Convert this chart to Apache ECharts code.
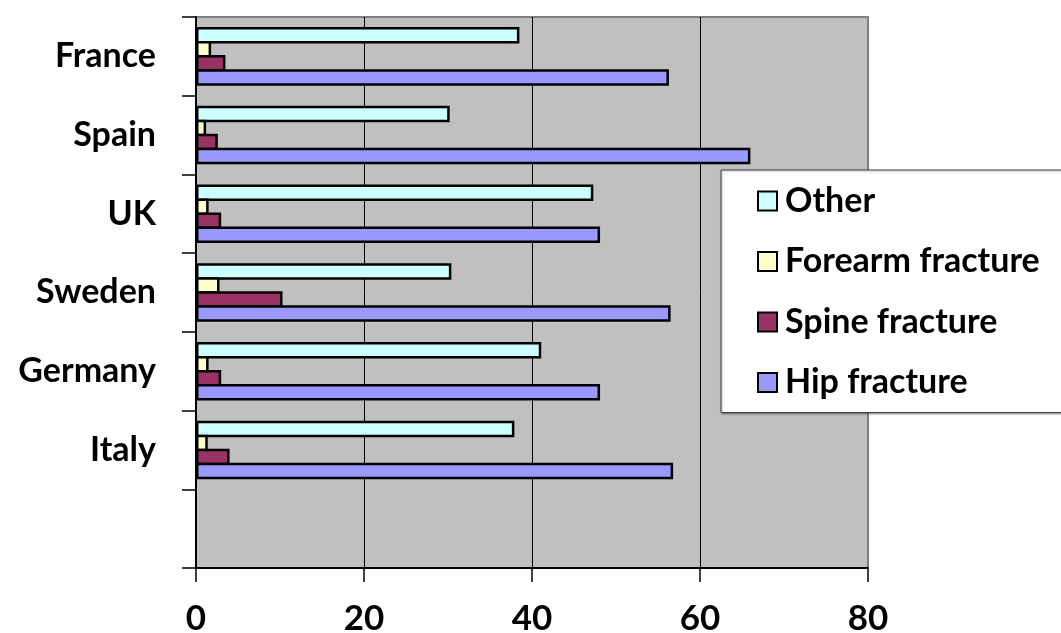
<!DOCTYPE html>
<html>
<head>
<meta charset="utf-8">
<script src="https://cdn.jsdelivr.net/npm/echarts@6/dist/echarts.min.js"></script>
<style>
  html, body { margin: 0; padding: 0; background: #fff; }
  #chart { width: 1061px; height: 633px; }
</style>
</head>
<body>
<div id="chart"></div>
<script>
// Countries, top to bottom; the trailing blank row leaves an empty band under Italy
const countries = ['France', 'Spain', 'UK', 'Sweden', 'Germany', 'Italy', ''];

// Share of fracture type by country (%)
const other   = [38.5, 30.2, 47.3, 30.4, 41.1, 37.9, null];
const forearm = [1.8, 1.2, 1.5, 2.8, 1.5, 1.4, null];
const spine   = [3.5, 2.6, 3.0, 10.3, 3.0, 4.0, null];
const hip     = [56.3, 66.0, 48.1, 56.5, 48.1, 56.8, null];

const xTicks = [0, 20, 40, 60, 80];

const FONT = 'Lato, "Open Sans", sans-serif';

// Neighbouring bars share their black outline, so they overlap by one border width
function barSeries(name, data, color) {
  return {
    name: name,
    type: 'bar',
    data: data,
    barWidth: 16.5,
    barGap: '-15%',
    itemStyle: { color: color, borderColor: '#000', borderWidth: 2.5 },
    emphasis: { disabled: true }
  };
}

const chart = echarts.init(document.getElementById('chart'), null, { renderer: 'canvas' });
chart.setOption({
  animation: false,
  backgroundColor: '#fff',
  grid: {
    left: 196, right: 193, top: 17, bottom: 65,
    outerBoundsMode: 'none',
    containLabel: false,
    show: true,
    backgroundColor: '#c0c0c0',
    borderColor: '#808080',
    borderWidth: 2
  },
  legend: {
    orient: 'vertical',
    left: 721, top: 170,
    padding: [14, 60, 13, 36],
    itemGap: 26.5,
    itemWidth: 19,
    itemHeight: 19,
    icon: 'rect',
    backgroundColor: '#fff',
    borderColor: '#404040',
    borderWidth: 1,
    shadowColor: 'rgba(0,0,0,0.35)',
    shadowBlur: 2,
    shadowOffsetX: 1,
    shadowOffsetY: 1,
    textStyle: { fontFamily: FONT, fontWeight: 'bold', fontSize: 34, color: '#000', padding: [0, 0, 0, 3] },
    data: ['Other', 'Forearm fracture', 'Spine fracture', 'Hip fracture']
  },
  xAxis: {
    type: 'value',
    min: xTicks[0],
    max: xTicks[xTicks.length - 1],
    interval: 20,
    axisLine: { show: true, lineStyle: { color: '#000', width: 2 } },
    axisTick: { show: true, length: 14, lineStyle: { color: '#000', width: 1.5 } },
    axisLabel: {
      margin: 33,
      fontFamily: FONT, fontWeight: 'bold', fontSize: 35, color: '#000',
      formatter: function (v) { return xTicks.indexOf(v) >= 0 ? String(v) : ''; }
    },
    splitLine: { show: true, showMinLine: false, showMaxLine: false, lineStyle: { color: '#000', width: 1 } }
  },
  yAxis: {
    type: 'category',
    inverse: true,
    data: countries,
    axisLine: { show: true, lineStyle: { color: '#000', width: 2 } },
    axisTick: { show: true, length: 14, lineStyle: { color: '#000', width: 1.5 } },
    axisLabel: {
      margin: 40,
      fontFamily: FONT, fontWeight: 'bold', fontSize: 34, color: '#000'
    },
    splitLine: { show: false }
  },
  series: [
    barSeries('Other', other, '#ccffff'),
    barSeries('Forearm fracture', forearm, '#ffffcc'),
    barSeries('Spine fracture', spine, '#993366'),
    barSeries('Hip fracture', hip, '#9999ff')
  ]
});
</script>
</body>
</html>
